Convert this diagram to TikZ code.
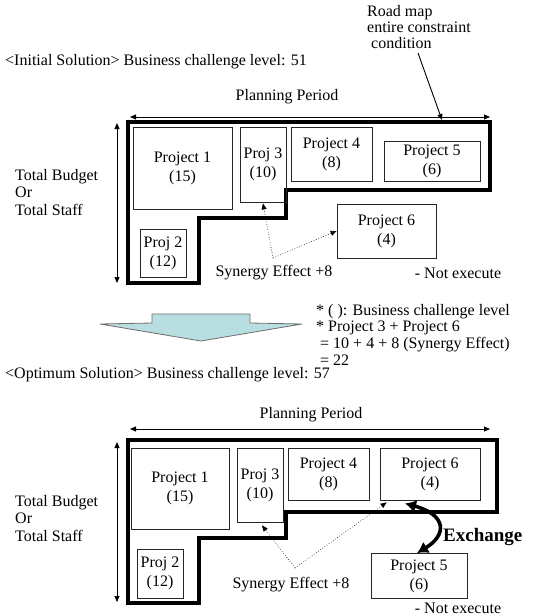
\documentclass[tikz,border=0pt]{standalone}
\usepackage{fontspec}
\setmainfont{Liberation Serif}
\usetikzlibrary{arrows.meta}
\definecolor{wedgefill}{RGB}{185,222,225}
\definecolor{wedgeline}{RGB}{110,110,110}
\begin{document}
\begin{tikzpicture}[x=1pt,y=-1pt,
  txt/.style={inner sep=0pt,font=\fontsize{16}{17.5}\selectfont},
  box/.style={draw=black!85,line width=0.8pt,inner sep=0pt,align=center,
    font=\fontsize{16}{19}\selectfont},
  outline/.style={draw=black,line width=3.2pt,line join=miter},
  dbl/.style={draw=black,line width=0.9pt,{Triangle[length=6pt,width=5pt]}-{Triangle[length=6pt,width=5pt]}},
  single/.style={draw=black,line width=0.9pt,-{Triangle[length=6pt,width=5pt]}},
  dotarr/.style={draw=black,line width=0.6pt,dotted,-{Triangle[length=6pt,width=5pt]}},
  xarr/.style={draw=black,line width=3.6pt,{Latex[length=11pt,width=13pt]}-{Latex[length=11pt,width=13pt]}},
  wedge/.style={draw=wedgeline,line width=0.8pt,fill=wedgefill}
]
\useasboundingbox (0,0) rectangle (543,616);
\fill[white] (0,0) rectangle (543,616);

% ---------- Top: initial solution ----------
\node[txt,align=left,anchor=north west] (rm) at (367,5)
  {Road map\\[-1.5pt]entire constraint\\[-1.5pt]\hspace*{4pt}condition};
\node[txt,anchor=west] (t1) at (5,62) {<Initial Solution> Business challenge level: 51};
\node[txt] (pp1) at (287,97) {Planning Period};

\coordinate (h1l) at (130,117);
\coordinate (h1r) at (490,117);
\draw[dbl] (h1l) -- (h1r);
\coordinate (v1t) at (117,123);
\coordinate (v1b) at (117,283);
\draw[dbl] (v1t) -- (v1b);

\draw[outline] (128,122) -- (490,122) -- (490,190) -- (286,190) -- (286,218)
  -- (199,218) -- (199,283) -- (128,283) -- cycle;
\coordinate (rmtip) at (442,120);
\coordinate (rmstart) at (418,53);
\draw[single] (rmstart) -- (rmtip);

\node[box,minimum width=99pt,minimum height=82pt] (a1) at (182.5,168) {Project 1\\(15)};
\node[box,minimum width=46pt,minimum height=75pt] (a3) at (263,164.5) {Proj 3\\(10)};
\node[box,minimum width=81pt,minimum height=54pt] (a4) at (331.5,154) {Project 4\\(8)};
\node[box,minimum width=96pt,minimum height=40pt] (a5) at (432,161) {Project 5\\(6)};
\node[box,minimum width=46pt,minimum height=48pt] (a2) at (163,253) {Proj 2\\(12)};
\node[box,minimum width=99pt,minimum height=54pt] (a6) at (386.5,231) {Project 6\\(4)};

\node[txt,align=left,anchor=west] (tb1) at (15,192.5) {Total Budget\\Or\\Total Staff};

\coordinate (s1) at (273,258);
\draw[dotarr] (s1) -- ([yshift=-1pt]a3.south);
\draw[dotarr] (s1) -- (a6.west);
\node[txt] (se1) at (274,273) {Synergy Effect +8};
\node[txt] (ne1) at (458,273) {- Not execute};

% ---------- transition ----------
\path[wedge] (100,324) -- (152,323) -- (152,314) -- (250,314) -- (250,323)
  -- (302,324) -- (201,341) -- cycle;
\node[txt,align=left,anchor=west,font=\fontsize{16}{16.7}\selectfont] (notes) at (316,334.5)
  {* ( ): Business challenge level\\* Project 3 + Project 6\\\hspace*{4pt}= 10 + 4 + 8 (Synergy Effect)\\\hspace*{4pt}= 22};
\node[txt,anchor=west] (t2) at (5,375) {<Optimum Solution> Business challenge level: 57};

% ---------- Bottom: optimum solution ----------
\node[txt] (pp2) at (311,415) {Planning Period};
\coordinate (h2l) at (130,429);
\coordinate (h2r) at (490,429);
\draw[dbl] (h2l) -- (h2r);
\coordinate (v2t) at (117,442);
\coordinate (v2b) at (117,602);
\draw[dbl] (v2t) -- (v2b);

\draw[outline] (128,440) -- (497,440) -- (497,512) -- (286,512) -- (286,538)
  -- (199,538) -- (199,603) -- (128,603) -- cycle;

\node[box,minimum width=98pt,minimum height=81pt] (b1) at (180,488.5) {Project 1\\(15)};
\node[box,minimum width=46pt,minimum height=74pt] (b3) at (260,485) {Proj 3\\(10)};
\node[box,minimum width=81pt,minimum height=52pt] (b4) at (328.5,474) {Project 4\\(8)};
\node[box,minimum width=100pt,minimum height=52pt] (b6) at (430,474) {Project 6\\(4)};
\node[box,minimum width=46pt,minimum height=49pt] (b2) at (160,573.5) {Proj 2\\(12)};
\node[box,minimum width=96pt,minimum height=45pt] (b5) at (419,576) {Project 5\\(6)};

\node[txt,align=left,anchor=west] (tb2) at (15,518.5) {Total Budget\\Or\\Total Staff};

\coordinate (s2) at (295,568);
\draw[dotarr] (s2) -- ([yshift=-3pt,xshift=2pt]b3.south);
\draw[dotarr] (s2) -- ([xshift=7pt,yshift=-2pt]b6.south west);
\node[txt] (se2) at (291,585) {Synergy Effect +8};
\node[txt] (ne2) at (458,608.5) {- Not execute};

\draw[xarr] ([xshift=-25pt,yshift=-3pt]b6.south) .. controls (447,515) and (447,535) .. ([xshift=-2pt]b5.north);
\node[txt,anchor=west,font=\fontsize{19}{20}\bfseries] (ex) at (443,537) {Exchange};
\end{tikzpicture}
\end{document}
